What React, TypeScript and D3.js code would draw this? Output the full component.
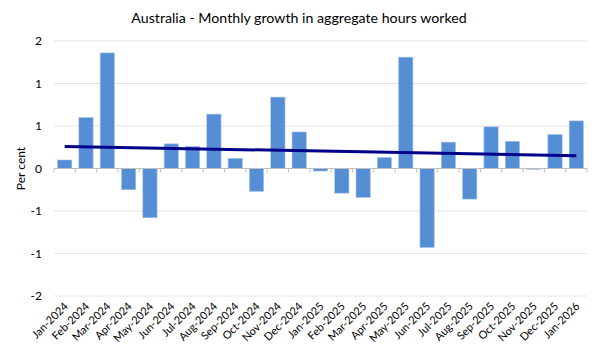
import React from "react";
import * as d3 from "d3";

const months = [
  "Jan-2024","Feb-2024","Mar-2024","Apr-2024","May-2024","Jun-2024","Jul-2024","Aug-2024","Sep-2024","Oct-2024","Nov-2024","Dec-2024",
  "Jan-2025","Feb-2025","Mar-2025","Apr-2025","May-2025","Jun-2025","Jul-2025","Aug-2025","Sep-2025","Oct-2025","Nov-2025","Dec-2025","Jan-2026",
];
const growth = [
  0.10, 0.60, 1.36, -0.25, -0.58, 0.29, 0.26, 0.64, 0.12, -0.27, 0.84, 0.43,
  -0.03, -0.29, -0.34, 0.13, 1.31, -0.93, 0.31, -0.36, 0.49, 0.32, -0.01, 0.40, 0.56,
];
const trendEnds = [0.26, 0.15];
const yTicks = [1.5, 1.0, 0.5, 0, -0.5, -1.0, -1.5];
const yTickLabels = ["2", "1", "1", "0", "-1", "-1", "-2"];
const title = "Australia - Monthly growth in aggregate hours worked";
const yTitle = "Per cent";

const W = 600, H = 361;
const left = 54, right = 587;

export default function App() {
  const x = d3.scaleBand<string>().domain(months).range([left, right]).paddingInner(0.33).paddingOuter(0.165);
  const y = d3.scaleLinear().domain([-1.5, 1.5]).range([296, 41]);
  const font = "Lato, 'Open Sans', sans-serif";
  const bw = x.bandwidth();
  const step = x.step();
  const trendLine = d3.line<number>()
    .x((_, i) => x(months[i === 0 ? 0 : months.length - 1])! + bw / 2)
    .y((d) => y(d));

  return (
    <svg width={W} height={H} style={{ position: "absolute", left: 0, top: 0, background: "#fff" }}>
      <text x={299} y={23} textAnchor="middle" fontFamily={font} fontSize={14.2} fill="#000">{title}</text>
      {yTicks.map((t, i) => (
        <g key={i}>
          {t !== 0 && <line x1={left} x2={right} y1={y(t)} y2={y(t)} stroke="#e3e3e3" strokeWidth={1} />}
          <text x={42} y={y(t) + 4} textAnchor="end" fontFamily={font} fontSize={12} fill="#000">{yTickLabels[i]}</text>
        </g>
      ))}
      <text transform={`translate(25,${y(0)}) rotate(-90)`} textAnchor="middle" fontFamily={font} fontSize={12} fill="#000">{yTitle}</text>
      {growth.map((v, i) => (
        <rect key={i} x={x(months[i])} y={y(Math.max(0, v))} width={bw}
          height={Math.max(0.8, Math.abs(y(v) - y(0)))} fill="#558ed5" stroke="#a9c4ea" strokeWidth={0.6} />
      ))}
      <line x1={left} x2={right} y1={y(0)} y2={y(0)} stroke="#bfbfbf" strokeWidth={1} />
      {d3.range(months.length + 1).map((i) => (
        <line key={i} x1={left + i * step} x2={left + i * step} y1={y(0)} y2={y(0) + 4} stroke="#bfbfbf" strokeWidth={1} />
      ))}
      <path d={trendLine(trendEnds)!} fill="none" stroke="#00008b" strokeWidth={3} />
      {months.map((m) => {
        const cx = x(m)! + bw / 2 + 4;
        return (
          <text key={m} transform={`translate(${cx},${307}) rotate(-45)`} textAnchor="end" fontFamily={font} fontSize={11} fill="#000">{m}</text>
        );
      })}
    </svg>
  );
}
